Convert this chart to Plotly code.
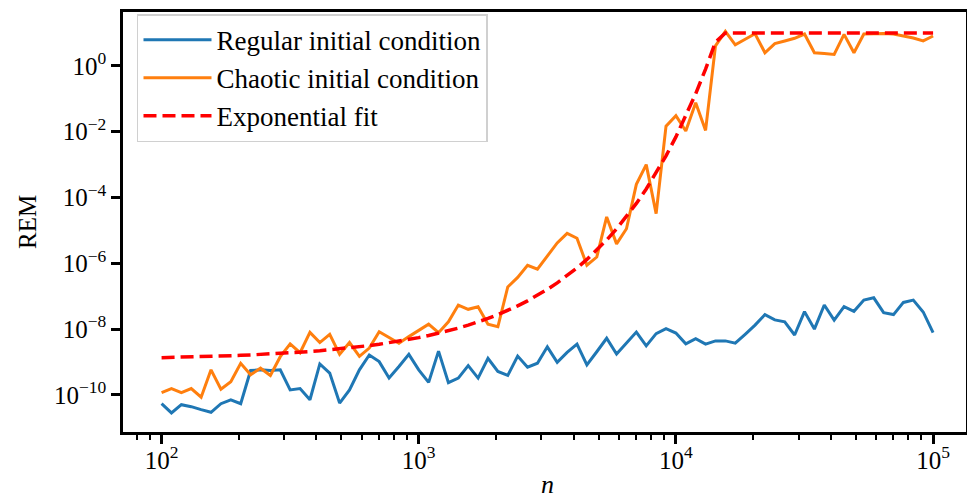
import plotly.graph_objects as go

# x positions (n), logarithmically spaced from 1e2 to 1e5
n_values = [100, 109.26, 119.38, 130.43, 142.51, 155.71, 170.13, 185.88, 203.09, 221.9,
            242.45, 264.9, 289.43, 316.23, 345.51, 377.51, 412.46, 450.66, 492.39, 537.98,
            587.8, 642.23, 701.7, 766.68, 837.68, 915.25, 1000, 1092.6, 1193.8, 1304.3,
            1425.1, 1557.1, 1701.3, 1858.8, 2030.9, 2219.0, 2424.5, 2649.0, 2894.3, 3162.3,
            3455.1, 3775.1, 4124.6, 4506.6, 4923.9, 5379.8, 5878.0, 6422.3, 7017.0, 7666.8,
            8376.8, 9152.5, 10000, 10926, 11938, 13043, 14251, 15571, 17013, 18588,
            20309, 22190, 24245, 26490, 28943, 31623, 34551, 37751, 41246, 45066,
            49239, 53798, 58780, 64223, 70170, 76668, 83768, 91525, 100000]

# log10(REM)
regular_log10 = [-10.27, -10.55, -10.30, -10.36, -10.45, -10.53, -10.27, -10.15, -10.27, -9.26,
                 -9.24, -9.26, -9.24, -9.85, -9.81, -10.15, -9.06, -9.34, -10.25, -9.85,
                 -9.24, -8.79, -8.99, -9.49, -9.14, -8.77, -9.24, -9.62, -8.67, -9.63,
                 -9.49, -9.11, -9.49, -8.89, -9.29, -9.41, -8.82, -9.16, -9.04, -8.54,
                 -9.01, -8.71, -8.46, -9.09, -8.69, -8.28, -8.76, -8.41, -8.09, -8.51,
                 -8.14, -7.99, -8.12, -8.45, -8.29, -8.46, -8.36, -8.36, -8.43, -8.16,
                 -7.88, -7.56, -7.72, -7.78, -8.18, -7.47, -8.00, -7.27, -7.73, -7.32,
                 -7.46, -7.12, -7.05, -7.50, -7.56, -7.19, -7.12, -7.48, -8.11]

chaotic_log10 = [-9.93, -9.81, -9.93, -9.81, -10.07, -9.24, -9.83, -9.60, -9.04, -9.39,
                 -9.19, -9.41, -8.84, -8.45, -8.72, -8.10, -8.41, -8.16, -8.77, -8.41,
                 -8.83, -8.58, -8.08, -8.26, -8.43, -8.23, -8.05, -7.85, -8.11, -7.78,
                 -7.27, -7.40, -7.32, -7.85, -7.93, -6.72, -6.43, -6.06, -6.18, -5.77,
                 -5.38, -5.09, -5.24, -6.06, -5.81, -4.59, -5.41, -4.95, -3.60, -3.00,
                 -4.49, -1.83, -1.51, -1.98, -1.12, -1.96, 0.61, 1.05, 0.64, 0.81,
                 0.98, 0.40, 0.68, 0.76, 0.84, 0.97, 0.40, 0.38, 0.35, 0.96,
                 0.40, 0.97, 0.99, 0.99, 0.97, 0.92, 0.85, 0.76, 0.91]

fit_log10 = [-8.870, -8.864, -8.857, -8.850, -8.841, -8.832, -8.823, -8.812, -8.800, -8.788,
             -8.774, -8.758, -8.742, -8.724, -8.704, -8.682, -8.658, -8.632, -8.604, -8.573,
             -8.540, -8.503, -8.462, -8.418, -8.370, -8.318, -8.260, -8.197, -8.129, -8.054,
             -7.972, -7.882, -7.785, -7.678, -7.561, -7.434, -7.294, -7.142, -6.976, -6.794,
             -6.595, -6.379, -6.142, -5.883, -5.600, -5.291, -4.953, -4.584, -4.181, -3.740,
             -3.259, -2.733, -2.158, -1.530, -0.844, -0.095, 0.724, 1.0, 1.0, 1.0,
             1.0, 1.0, 1.0, 1.0, 1.0, 1.0, 1.0, 1.0, 1.0, 1.0,
             1.0, 1.0, 1.0, 1.0, 1.0, 1.0, 1.0, 1.0, 1.0]

series_names = ["Regular initial condition", "Chaotic initial condition", "Exponential fit"]

y_tick_values = [1e-10, 1e-8, 1e-6, 1e-4, 1e-2, 1e0]
y_tick_labels = ["10<sup>\u221210</sup>", "10<sup>\u22128</sup>", "10<sup>\u22126</sup>",
                 "10<sup>\u22124</sup>", "10<sup>\u22122</sup>", "10<sup>0</sup>"]
x_tick_values = [1e2, 1e3, 1e4, 1e5]
x_tick_labels = ["10<sup>2</sup>", "10<sup>3</sup>", "10<sup>4</sup>", "10<sup>5</sup>"]

regular = [10 ** v for v in regular_log10]
chaotic = [10 ** v for v in chaotic_log10]
fit = [10 ** v for v in fit_log10]

FONT = "Liberation Serif"

fig = go.Figure()
fig.add_trace(go.Scatter(x=n_values, y=regular, mode="lines", name=series_names[0],
                         line=dict(color="#1f77b4", width=3)))
fig.add_trace(go.Scatter(x=n_values, y=chaotic, mode="lines", name=series_names[1],
                         line=dict(color="#ff7f0e", width=3)))
fig.add_trace(go.Scatter(x=n_values, y=fit, mode="lines", name=series_names[2],
                         line=dict(color="#ff0000", width=3.5, dash="13px,6px")))

W, H = 967, 501
L, R, T, B = 123, 1, 12, 69

fig.update_layout(
    width=W, height=H,
    margin=dict(l=L, r=R, t=T, b=B, autoexpand=False),
    paper_bgcolor="white", plot_bgcolor="white",
    font=dict(family=FONT, size=25, color="black"),
    showlegend=True,
    legend=dict(x=0.0166, y=0.995, xanchor="left", yanchor="top",
                bgcolor="rgba(255,255,255,0.8)", bordercolor="#d0d0d0", borderwidth=1.5,
                font=dict(family=FONT, size=27), itemwidth=68, tracegroupgap=0),
)

fig.update_xaxes(
    type="log", range=[1.85, 5.128], tickvals=x_tick_values, ticktext=x_tick_labels,
    showgrid=False, zeroline=False,
    showline=True, linecolor="black", linewidth=2.5, mirror=True,
    ticks="outside", ticklen=9, tickwidth=2.5, tickcolor="black",
    tickfont=dict(family=FONT, size=25), ticklabelstandoff=-5,
    minor=dict(ticks="outside", ticklen=5, tickwidth=2, tickcolor="black", dtick="D1", showgrid=False),
)
fig.update_yaxes(
    type="log", range=[-11.13, 1.64], tickvals=y_tick_values, ticktext=y_tick_labels,
    showgrid=False, zeroline=False,
    showline=True, linecolor="black", linewidth=2.5, mirror=True,
    ticks="outside", ticklen=9, tickwidth=2.5, tickcolor="black",
    tickfont=dict(family=FONT, size=25),
)

plot_w = W - L - R
plot_h = H - T - B
fig.add_annotation(text="REM", textangle=-90, xref="paper", yref="paper",
                   x=(27 - L) / plot_w, y=1 - (222 - T) / plot_h,
                   xanchor="center", yanchor="middle", showarrow=False,
                   font=dict(family=FONT, size=25))
fig.add_annotation(text="<i>n</i>", xref="paper", yref="paper",
                   x=(547 - L) / plot_w, y=1 - (484 - T) / plot_h,
                   xanchor="center", yanchor="middle", showarrow=False,
                   font=dict(family=FONT, size=26))

fig.write_html("out.html")
